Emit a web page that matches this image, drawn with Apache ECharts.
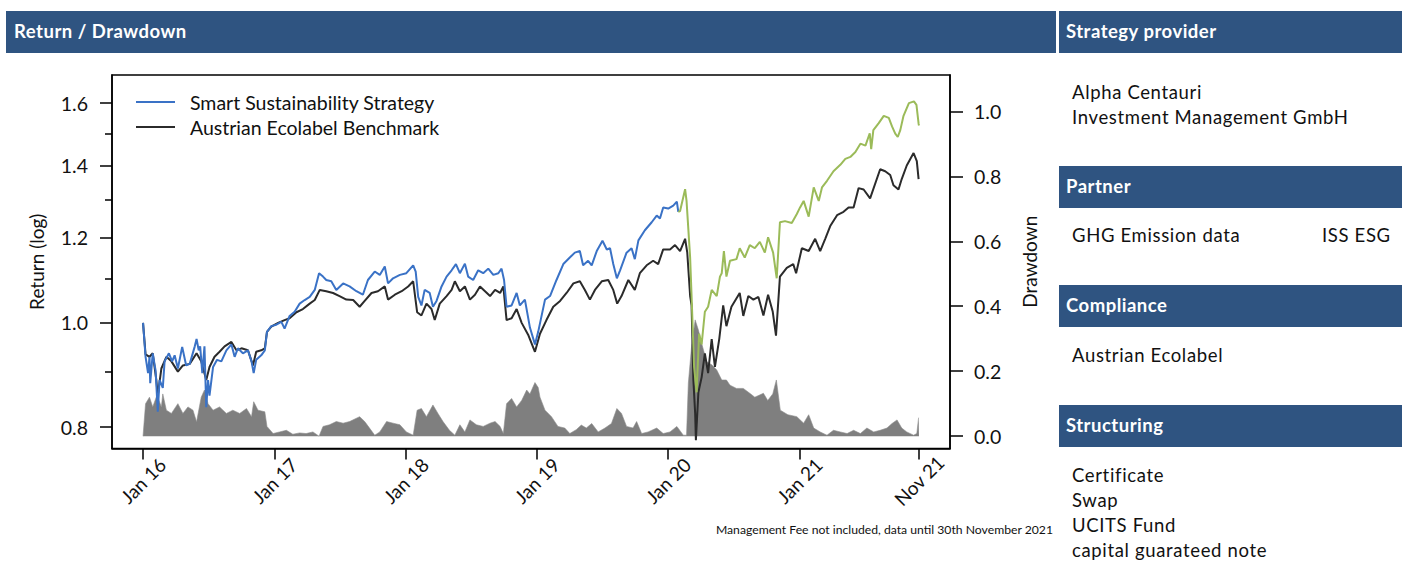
<!DOCTYPE html>
<html>
<head>
<meta charset="utf-8">
<title>Return / Drawdown</title>
<script src="https://cdn.jsdelivr.net/npm/echarts@6/dist/echarts.min.js"></script>
<style>
  html, body { margin: 0; padding: 0; background: #fff; }
  body { width: 1402px; height: 561px; position: relative; overflow: hidden; font-family: Lato, sans-serif; color: #111; }
  #chart { position: absolute; left: 0; top: 0; width: 1402px; height: 561px; }
  .bar { position: absolute; background: #2f5481; height: 42px; }
  .bar-title { position: absolute; color: #fff; font-weight: bold; font-size: 18.5px; line-height: 25px; letter-spacing: 0.5px; white-space: nowrap; }
  .txt { position: absolute; font-size: 18.5px; line-height: 25px; letter-spacing: 0.65px; white-space: nowrap; }
  #note { position: absolute; right: 349px; top: 521px; font-size: 12.2px; line-height: 18px; white-space: nowrap; }
</style>
</head>
<body>
<div id="chart"></div>
<div id="panel"></div>
<div id="note">Management Fee not included, data until 30th November 2021</div>
<script>
// strategy, backtest part (blue)
const strategyBacktest = [
  ['2016-01-01',1.000],['2016-01-08',0.930],['2016-01-15',0.898],['2016-01-19',0.930],['2016-01-21',0.879],
  ['2016-01-28',0.937],['2016-02-05',0.903],['2016-02-11',0.827],['2016-02-16',0.885],['2016-02-25',0.870],
  ['2016-03-01',0.921],['2016-03-13',0.937],['2016-03-22',0.921],['2016-03-29',0.933],['2016-04-07',0.907],
  ['2016-04-19',0.950],['2016-04-30',0.913],['2016-05-10',0.916],['2016-05-24',0.951],['2016-05-29',0.966],
  ['2016-06-04',0.943],['2016-06-08',0.951],['2016-06-14',0.898],['2016-06-20',0.951],['2016-06-25',0.835],
  ['2016-06-30',0.885],['2016-07-04',0.856],['2016-07-14',0.910],['2016-07-25',0.924],['2016-08-06',0.921],
  ['2016-08-20',0.943],['2016-09-03',0.955],['2016-09-12',0.930],['2016-09-21',0.947],['2016-10-05',0.937],
  ['2016-10-19',0.943],['2016-10-29',0.921],['2016-11-04',0.898],['2016-11-11',0.924],['2016-11-25',0.933],
  ['2016-12-05',0.943],['2016-12-11',0.981],['2016-12-23',0.993],['2017-01-06',0.996],['2017-01-20',1.002],
  ['2017-01-29',0.988],['2017-02-12',1.015],['2017-02-26',1.024],['2017-03-12',1.042],['2017-03-26',1.050],
  ['2017-04-09',1.057],['2017-04-23',1.073],['2017-05-05',1.112],['2017-05-16',1.104],['2017-05-25',1.096],
  ['2017-06-08',1.093],['2017-06-22',1.073],['2017-07-11',1.088],['2017-07-29',1.081],['2017-08-17',1.070],
  ['2017-09-04',1.062],['2017-09-18',1.096],['2017-10-07',1.116],['2017-10-21',1.108],['2017-11-04',1.128],
  ['2017-11-13',1.088],['2017-11-27',1.100],['2017-12-16',1.108],['2018-01-03',1.112],['2018-01-22',1.131],
  ['2018-01-29',1.116],['2018-02-05',1.057],['2018-02-14',1.038],['2018-02-23',1.073],['2018-03-09',1.066],
  ['2018-03-18',1.035],['2018-03-28',1.048],['2018-04-11',1.081],['2018-04-25',1.104],['2018-05-09',1.119],
  ['2018-05-21',1.134],['2018-06-01',1.112],['2018-06-15',1.135],['2018-06-24',1.104],['2018-07-08',1.096],
  ['2018-07-22',1.119],['2018-08-05',1.112],['2018-08-19',1.123],['2018-09-02',1.108],['2018-09-16',1.112],
  ['2018-09-25',1.123],['2018-10-02',1.096],['2018-10-09',1.035],['2018-10-23',1.038],['2018-11-06',1.066],
  ['2018-11-15',1.038],['2018-11-29',1.051],['2018-12-13',0.990],['2018-12-27',0.955],['2019-01-05',0.981],
  ['2019-01-24',1.051],['2019-02-07',1.059],['2019-02-25',1.096],['2019-03-16',1.134],['2019-04-03',1.150],
  ['2019-04-17',1.162],['2019-05-01',1.166],['2019-05-10',1.131],['2019-05-24',1.142],['2019-06-03',1.131],
  ['2019-06-17',1.166],['2019-07-03',1.192],['2019-07-15',1.170],['2019-07-24',1.173],['2019-08-02',1.134],
  ['2019-08-12',1.100],['2019-08-21',1.119],['2019-09-08',1.162],['2019-09-22',1.173],['2019-10-01',1.146],
  ['2019-10-11',1.193],['2019-10-29',1.219],['2019-11-17',1.240],['2019-12-01',1.258],['2019-12-10',1.250],
  ['2019-12-19',1.280],['2020-01-02',1.277],['2020-01-16',1.285],['2020-01-26',1.296],['2020-01-30',1.268]
];

// strategy, live part (green)
const strategyLive = [
  ['2020-01-30',1.268],['2020-02-04',1.270],['2020-02-18',1.331],['2020-02-22',1.298],['2020-03-03',1.150],
  ['2020-03-07',1.059],['2020-03-14',0.910],['2020-03-21',0.862],['2020-03-28',0.977],['2020-04-04',0.955],
  ['2020-04-13',1.024],['2020-04-22',1.035],['2020-05-02',1.073],['2020-05-16',1.059],['2020-05-25',1.104],
  ['2020-05-30',1.112],['2020-06-05',1.166],['2020-06-12',1.104],['2020-06-22',1.142],['2020-07-10',1.146],
  ['2020-07-19',1.173],['2020-08-02',1.150],['2020-08-16',1.181],['2020-08-30',1.173],['2020-09-13',1.189],
  ['2020-09-27',1.162],['2020-10-06',1.201],['2020-10-20',1.162],['2020-10-30',1.100],['2020-11-08',1.240],
  ['2020-11-22',1.243],['2020-12-11',1.238],['2020-12-25',1.262],['2021-01-03',1.280],['2021-01-13',1.298],
  ['2021-01-27',1.255],['2021-02-10',1.336],['2021-02-24',1.298],['2021-03-05',1.336],['2021-03-19',1.355],
  ['2021-04-06',1.383],['2021-04-25',1.402],['2021-05-09',1.420],['2021-05-23',1.426],['2021-06-06',1.441],
  ['2021-06-20',1.467],['2021-07-04',1.461],['2021-07-16',1.500],['2021-07-20',1.450],['2021-07-26',1.510],
  ['2021-08-10',1.533],['2021-08-24',1.557],['2021-09-07',1.550],['2021-09-16',1.522],['2021-09-25',1.499],
  ['2021-10-02',1.488],['2021-10-09',1.510],['2021-10-18',1.557],['2021-11-02',1.600],['2021-11-16',1.606],
  ['2021-11-23',1.594],['2021-11-29',1.531],['2021-11-30',1.525]
];

// benchmark (black)
const benchmark = [
  ['2016-01-01',1.000],['2016-01-08',0.935],['2016-01-19',0.930],['2016-01-28',0.937],['2016-02-07',0.885],
  ['2016-02-11',0.856],['2016-02-21',0.907],['2016-03-06',0.930],['2016-03-20',0.921],['2016-04-07',0.901],
  ['2016-04-21',0.913],['2016-05-10',0.916],['2016-05-29',0.937],['2016-06-11',0.921],['2016-06-25',0.885],
  ['2016-07-04',0.910],['2016-07-18',0.930],['2016-08-01',0.940],['2016-08-15',0.951],['2016-09-03',0.960],
  ['2016-09-17',0.943],['2016-10-01',0.947],['2016-10-19',0.943],['2016-11-02',0.913],['2016-11-11',0.940],
  ['2016-11-25',0.943],['2016-12-05',0.947],['2016-12-11',0.981],['2016-12-23',0.992],['2017-01-11',1.000],
  ['2017-01-29',1.006],['2017-02-12',1.010],['2017-03-03',1.023],['2017-03-21',1.030],['2017-04-09',1.042],
  ['2017-04-23',1.050],['2017-05-07',1.073],['2017-05-25',1.070],['2017-06-13',1.066],['2017-07-01',1.059],
  ['2017-07-20',1.051],['2017-08-08',1.050],['2017-08-26',1.035],['2017-09-09',1.048],['2017-09-28',1.066],
  ['2017-10-16',1.070],['2017-11-04',1.081],['2017-11-13',1.051],['2017-12-02',1.062],['2017-12-21',1.070],
  ['2018-01-08',1.081],['2018-01-22',1.093],['2018-02-02',1.023],['2018-02-14',1.016],['2018-02-28',1.042],
  ['2018-03-14',1.030],['2018-03-23',1.006],['2018-04-06',1.042],['2018-04-25',1.059],['2018-05-09',1.073],
  ['2018-05-18',1.093],['2018-06-01',1.070],['2018-06-15',1.081],['2018-06-29',1.051],['2018-07-13',1.062],
  ['2018-07-27',1.081],['2018-08-10',1.070],['2018-08-24',1.059],['2018-09-07',1.073],['2018-09-21',1.066],
  ['2018-09-30',1.081],['2018-10-09',1.006],['2018-10-23',1.010],['2018-11-06',1.030],['2018-11-20',1.000],
  ['2018-12-08',0.975],['2018-12-27',0.940],['2019-01-10',0.977],['2019-01-28',1.006],['2019-02-16',1.035],
  ['2019-03-07',1.048],['2019-03-25',1.066],['2019-04-13',1.088],['2019-05-01',1.093],['2019-05-15',1.073],
  ['2019-05-29',1.051],['2019-06-12',1.073],['2019-07-01',1.093],['2019-07-19',1.096],['2019-08-02',1.073],
  ['2019-08-13',1.042],['2019-08-25',1.059],['2019-09-13',1.096],['2019-10-01',1.073],['2019-10-15',1.112],
  ['2019-11-03',1.131],['2019-11-21',1.142],['2019-12-05',1.134],['2019-12-19',1.170],['2020-01-07',1.170],
  ['2020-01-21',1.181],['2020-02-04',1.166],['2020-02-18',1.197],['2020-02-24',1.162],['2020-03-03',1.059],
  ['2020-03-07',1.038],['2020-03-12',0.885],['2020-03-17',0.824],['2020-03-19',0.778],['2020-03-26',0.862],
  ['2020-04-04',0.890],['2020-04-13',0.937],['2020-04-22',0.898],['2020-05-02',0.966],['2020-05-11',0.910],
  ['2020-05-23',0.966],['2020-06-03',1.038],['2020-06-12',0.993],['2020-06-26',1.035],['2020-07-19',1.066],
  ['2020-07-29',1.015],['2020-08-12',1.059],['2020-08-26',1.051],['2020-09-09',1.057],['2020-09-23',1.016],
  ['2020-10-06',1.062],['2020-10-19',1.024],['2020-10-28',0.973],['2020-11-08',1.104],['2020-11-27',1.125],
  ['2020-12-15',1.134],['2020-12-23',1.112],['2021-01-08',1.173],['2021-01-27',1.166],['2021-02-14',1.197],
  ['2021-02-28',1.166],['2021-03-14',1.197],['2021-03-28',1.230],['2021-04-16',1.259],['2021-05-04',1.268],
  ['2021-05-18',1.280],['2021-06-01',1.280],['2021-06-15',1.334],['2021-06-29',1.330],['2021-07-17',1.305],
  ['2021-08-14',1.389],['2021-08-28',1.383],['2021-09-11',1.372],['2021-09-20',1.342],['2021-10-04',1.330],
  ['2021-10-13',1.360],['2021-10-27',1.400],['2021-11-15',1.438],['2021-11-24',1.413],['2021-11-29',1.360],
  ['2021-11-30',1.360]
];

// drawdown of the strategy (grey area, right axis)
const drawdown = [
  ['2016-01-01',0.000],['2016-01-08',0.100],['2016-01-19',0.120],['2016-01-28',0.090],['2016-02-09',0.127],
  ['2016-02-21',0.090],['2016-02-25',0.130],['2016-03-06',0.080],['2016-03-20',0.070],['2016-04-07',0.100],
  ['2016-04-21',0.070],['2016-05-05',0.090],['2016-05-19',0.080],['2016-05-29',0.044],['2016-06-11',0.120],
  ['2016-06-20',0.142],['2016-06-30',0.100],['2016-07-14',0.080],['2016-08-01',0.090],['2016-08-20',0.070],
  ['2016-09-07',0.080],['2016-09-26',0.070],['2016-10-15',0.085],['2016-10-29',0.060],['2016-11-04',0.106],
  ['2016-11-16',0.080],['2016-12-05',0.075],['2016-12-11',0.030],['2016-12-28',0.008],['2017-01-15',0.013],
  ['2017-02-03',0.018],['2017-02-21',0.006],['2017-03-12',0.010],['2017-03-30',0.008],['2017-04-18',0.013],
  ['2017-05-05',0.000],['2017-05-16',0.030],['2017-06-03',0.035],['2017-06-22',0.045],['2017-07-11',0.040],
  ['2017-07-29',0.045],['2017-08-26',0.060],['2017-09-09',0.045],['2017-09-23',0.024],['2017-10-07',0.003],
  ['2017-10-21',0.013],['2017-11-09',0.045],['2017-11-27',0.040],['2017-12-16',0.035],['2018-01-03',0.013],
  ['2018-01-22',0.003],['2018-02-02',0.080],['2018-02-14',0.085],['2018-02-28',0.060],['2018-03-18',0.096],
  ['2018-04-01',0.070],['2018-04-15',0.045],['2018-05-03',0.018],['2018-05-18',0.003],['2018-06-01',0.035],
  ['2018-06-15',0.013],['2018-06-29',0.050],['2018-07-17',0.035],['2018-08-05',0.030],['2018-08-24',0.040],
  ['2018-09-07',0.045],['2018-09-21',0.030],['2018-09-30',0.008],['2018-10-09',0.100],['2018-10-23',0.116],
  ['2018-11-06',0.090],['2018-11-20',0.110],['2018-12-04',0.142],['2018-12-13',0.130],['2018-12-27',0.165],
  ['2019-01-05',0.150],['2019-01-10',0.120],['2019-01-24',0.080],['2019-02-11',0.060],['2019-03-01',0.030],
  ['2019-03-20',0.025],['2019-04-03',0.008],['2019-04-21',0.020],['2019-05-05',0.034],['2019-05-19',0.025],
  ['2019-06-03',0.039],['2019-06-21',0.013],['2019-07-10',0.025],['2019-07-28',0.039],['2019-08-12',0.085],
  ['2019-08-25',0.070],['2019-09-08',0.030],['2019-09-26',0.025],['2019-10-06',0.045],['2019-10-20',0.008],
  ['2019-11-07',0.013],['2019-12-01',0.025],['2019-12-19',0.008],['2020-01-07',0.013],['2020-01-26',0.030],
  ['2020-02-13',0.003],['2020-02-22',0.003],['2020-02-27',0.163],['2020-03-07',0.276],['2020-03-17',0.358],
  ['2020-03-26',0.327],['2020-04-04',0.286],['2020-04-18',0.229],['2020-05-02',0.220],['2020-05-16',0.204],
  ['2020-05-30',0.173],['2020-06-12',0.173],['2020-06-22',0.157],['2020-07-10',0.147],['2020-07-29',0.147],
  ['2020-08-16',0.132],['2020-08-30',0.120],['2020-09-23',0.132],['2020-10-05',0.110],['2020-10-19',0.130],
  ['2020-10-29',0.173],['2020-11-09',0.080],['2020-11-30',0.066],['2020-12-25',0.060],['2021-01-13',0.040],
  ['2021-01-27',0.066],['2021-02-10',0.025],['2021-02-28',0.013],['2021-03-19',0.003],['2021-04-06',0.018],
  ['2021-04-25',0.013],['2021-05-14',0.008],['2021-06-01',0.018],['2021-06-20',0.008],['2021-07-08',0.025],
  ['2021-07-27',0.013],['2021-08-14',0.018],['2021-09-02',0.025],['2021-09-16',0.039],['2021-09-30',0.050],
  ['2021-10-13',0.025],['2021-10-27',0.013],['2021-11-15',0.003],['2021-11-24',0.008],['2021-11-29',0.057],
  ['2021-11-30',0.057]
];

// axis ticks / labels
const xTickDates = ['2016-01-01','2017-01-01','2018-01-01','2019-01-01','2020-01-01','2021-01-01','2021-11-30'];
const xTickLabels = ['Jan 16','Jan 17','Jan 18','Jan 19','Jan 20','Jan 21','Nov 21'];
const returnTicks = [0.8, 1.0, 1.2, 1.4, 1.6];
const returnMinorTicks = [0.9, 1.1, 1.3, 1.5];
const drawdownTicks = [0, 0.2, 0.4, 0.6, 0.8, 1.0];

// right hand info panel
const panelSections = [
  { title: 'Strategy provider', barTop: 11, lines: ['Alpha Centauri', 'Investment Management GmbH'], firstTop: 79.5 },
  { title: 'Partner', barTop: 166, lines: ['GHG Emission data'], extra: 'ISS ESG', firstTop: 223 },
  { title: 'Compliance', barTop: 285, lines: ['Austrian Ecolabel'], firstTop: 343 },
  { title: 'Structuring', barTop: 405, lines: ['Certificate', 'Swap', 'UCITS Fund', 'capital guarateed note'], firstTop: 463 }
];

// ---- html boxes ----
const panel = document.getElementById('panel');
function addEl(cls, style, text) {
  const d = document.createElement('div');
  d.className = cls;
  Object.assign(d.style, style);
  if (text) d.textContent = text;
  panel.appendChild(d);
}
addEl('bar', { left: '6px', top: '11px', width: '1050px' });
addEl('bar-title', { left: '14px', top: '19px' }, 'Return / Drawdown');
panelSections.forEach(s => {
  addEl('bar', { left: '1059px', top: s.barTop + 'px', width: '343px' });
  addEl('bar-title', { left: '1066px', top: (s.barTop + 8) + 'px' }, s.title);
  s.lines.forEach((l, i) => addEl('txt', { left: '1072px', top: (s.firstTop + i * 25) + 'px' }, l));
  if (s.extra) addEl('txt', { left: '1322px', top: s.firstTop + 'px' }, s.extra);
});

// ---- chart ----
const day = 864e5;
const toTime = s => +echarts.time.parse(s);
const withTime = arr => arr.map(([d, v]) => [toTime(d), v]);
const xTickTimes = xTickDates.map(toTime);
const xMin = toTime('2016-01-01') - 86.4 * day;
const xMax = toTime('2021-11-30') + 86.4 * day;

const fontFamily = 'Lato, sans-serif';
const black = '#111';
const axisLine = { show: true, onZero: false, lineStyle: { color: '#000', width: 1.5 } };

const chart = echarts.init(document.getElementById('chart'), null, { renderer: 'svg' });

const option = {
  animation: false,
  textStyle: { fontFamily: fontFamily },
  grid: {
    left: 112, top: 75, width: 838, height: 373.5,
    show: true, borderColor: '#000', borderWidth: 1.5, containLabel: false
  },
  legend: {
    data: ['Smart Sustainability Strategy', 'Austrian Ecolabel Benchmark'],
    orient: 'vertical',
    left: 131, top: 86,
    icon: 'rect', itemWidth: 39, itemHeight: 2, itemGap: 3,
    textStyle: { fontFamily: fontFamily, fontSize: 19.5, color: black, lineHeight: 22, padding: [0, 0, 0, 10] }
  },
  xAxis: {
    type: 'value',
    min: xMin, max: xMax,
    axisLine: axisLine,
    splitLine: { show: false },
    axisTick: { customValues: xTickTimes, length: 11, lineStyle: { color: '#000', width: 1.5 } },
    axisLabel: {
      customValues: xTickTimes,
      formatter: v => xTickLabels[xTickTimes.indexOf(v)] || '',
      rotate: 45, align: 'center', verticalAlign: 'middle', margin: 32,
      fontSize: 19, color: black, fontFamily: fontFamily
    }
  },
  yAxis: [
    {
      type: 'log', logBase: 10, min: 0.7644, max: 1.699,
      position: 'left',
      name: 'Return (log)', nameLocation: 'middle', nameRotate: 90, nameGap: 66,
      nameTextStyle: { fontSize: 19, color: black, fontFamily: fontFamily },
      axisLine: axisLine,
      splitLine: { show: false },
      axisTick: { customValues: returnTicks, length: 12, lineStyle: { color: '#000', width: 1.5 } },
      axisLabel: { customValues: returnTicks, formatter: v => (+v).toFixed(1), margin: 24, fontSize: 19.5, color: black }
    },
    {
      // shorter in-between ticks of the return axis
      type: 'log', logBase: 10, min: 0.7644, max: 1.699,
      position: 'left',
      axisLine: { show: false },
      splitLine: { show: false },
      axisTick: { customValues: returnMinorTicks, length: 7, lineStyle: { color: '#000', width: 1.5 } },
      axisLabel: { show: false }
    },
    {
      type: 'value', min: -0.038, max: 1.112,
      position: 'right',
      name: 'Drawdown', nameLocation: 'middle', nameRotate: 90, nameGap: 70,
      nameTextStyle: { fontSize: 19, color: black, fontFamily: fontFamily },
      axisLine: axisLine,
      splitLine: { show: false },
      axisTick: { customValues: drawdownTicks, length: 13, lineStyle: { color: '#000', width: 1.5 } },
      axisLabel: { customValues: drawdownTicks, formatter: v => (+v).toFixed(1), margin: 24, fontSize: 19.5, color: black }
    }
  ],
  series: [
    {
      name: 'Drawdown', type: 'line', yAxisIndex: 2, data: withTime(drawdown),
      symbol: 'none', silent: true,
      lineStyle: { color: '#8c8c8c', width: 0.6 },
      areaStyle: { color: '#7f7f7f', opacity: 1 }
    },
    {
      name: 'Austrian Ecolabel Benchmark', type: 'line', yAxisIndex: 0, data: withTime(benchmark),
      symbol: 'none', color: '#2b2b2b',
      lineStyle: { color: '#2b2b2b', width: 2 }
    },
    {
      name: 'Smart Sustainability Strategy', type: 'line', yAxisIndex: 0, data: withTime(strategyBacktest),
      symbol: 'none', color: '#3a72c6',
      lineStyle: { color: '#3a72c6', width: 2 }
    },
    {
      name: 'Strategy live', type: 'line', yAxisIndex: 0, data: withTime(strategyLive),
      symbol: 'none', color: '#9bbb59',
      lineStyle: { color: '#9bbb59', width: 2 }
    }
  ]
};

chart.setOption(option);
</script>
</body>
</html>
